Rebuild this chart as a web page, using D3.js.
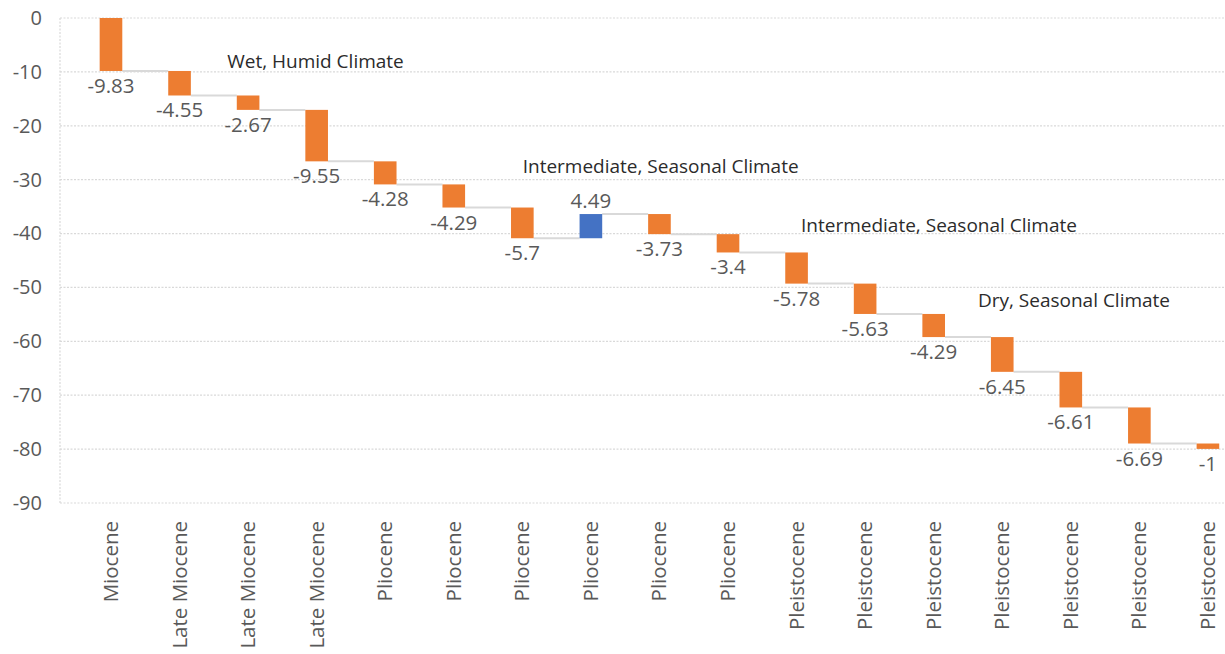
<!DOCTYPE html>
<html>
<head>
<meta charset="utf-8">
<script src="https://cdn.jsdelivr.net/npm/d3@7/dist/d3.min.js"></script>
<style>
  html, body { margin: 0; padding: 0; background: #ffffff; }
  svg { display: block; font-family: "Open Sans", "Noto Sans", sans-serif; }
</style>
</head>
<body>
<svg id="chart" width="1225" height="654"></svg>
<script>
// Epochs along the sequence, one step per entry
const categories = [
  "Miocene", "Late Miocene", "Late Miocene", "Late Miocene",
  "Pliocene", "Pliocene", "Pliocene", "Pliocene", "Pliocene", "Pliocene",
  "Pleistocene", "Pleistocene", "Pleistocene", "Pleistocene",
  "Pleistocene", "Pleistocene", "Pleistocene"
];

// Change contributed by each step
const changes = [
  -9.83, -4.55, -2.67, -9.55, -4.28, -4.29, -5.7, 4.49, -3.73, -3.4,
  -5.78, -5.63, -4.29, -6.45, -6.61, -6.69, -1
];

// Value axis ticks
const yTicks = [0, -10, -20, -30, -40, -50, -60, -70, -80, -90];

// Climate phase notes
const notes = [
  "Wet, Humid Climate",
  "Intermediate, Seasonal Climate",
  "Intermediate, Seasonal Climate",
  "Dry, Seasonal Climate"
];
// Where each note sits: category offset it starts at (fractional) and value of its baseline
const notePlacement = [
  { at: 1.86, v: -9.2 },
  { at: 6.17, v: -28.7 },
  { at: 10.23, v: -39.7 },
  { at: 12.81, v: -53.6 }
];

const colors = { down: "#ED7D31", up: "#4472C4", grid: "#d9d9d9", connector: "#d9d9d9", text: "#595959", note: "#2b2b2b" };

// Running totals for the waterfall
let run = 0;
const steps = changes.map((c, i) => {
  const start = run;
  run += c;
  return { i, cat: categories[i], change: c, start, end: run };
});

const svg = d3.select("#chart");
const plot = { left: 60, right: 1225, top: 18, bottom: 503 };

const y = d3.scaleLinear().domain([0, -90]).range([plot.top, plot.bottom]);
const x = d3.scaleBand()
  .domain(d3.range(categories.length))
  .range([76.7, 1242.2])
  .paddingInner(0.67)
  .paddingOuter(0.335);
const step = x.step();

// Gridlines
svg.append("g").selectAll("line").data(yTicks).join("line")
  .attr("x1", plot.left).attr("x2", plot.right)
  .attr("y1", d => y(d)).attr("y2", d => y(d))
  .attr("stroke", colors.grid).attr("stroke-width", 1.2)
  .attr("stroke-dasharray", "2,1.5");

// Vertical axis line
svg.append("line")
  .attr("x1", plot.left).attr("x2", plot.left)
  .attr("y1", y(0)).attr("y2", y(-90))
  .attr("stroke", colors.grid).attr("stroke-width", 1.2)
  .attr("stroke-dasharray", "2,1.5");

// Y axis labels (plain hyphen for negatives)
const yAxis = d3.axisLeft(y).tickValues(yTicks).tickFormat(d => String(d)).tickSize(0).tickPadding(18);
const yg = svg.append("g").attr("transform", `translate(${plot.left},0)`).call(yAxis);
yg.select(".domain").remove();
yg.selectAll("text")
  .attr("fill", colors.text)
  .style("font-size", "20px")
  .style("font-family", "'Open Sans', sans-serif");

// Connectors between consecutive bars
svg.append("g").selectAll("line").data(steps.slice(0, -1)).join("line")
  .attr("x1", d => x(d.i) + x.bandwidth())
  .attr("x2", d => x(d.i + 1))
  .attr("y1", d => y(d.end)).attr("y2", d => y(d.end))
  .attr("stroke", colors.connector).attr("stroke-width", 2);

// Bars
svg.append("g").selectAll("rect").data(steps).join("rect")
  .attr("x", d => x(d.i))
  .attr("width", x.bandwidth())
  .attr("y", d => y(Math.max(d.start, d.end)))
  .attr("height", d => Math.abs(y(d.end) - y(d.start)))
  .attr("fill", d => d.change < 0 ? colors.down : colors.up);

// Value labels
svg.append("g").selectAll("text").data(steps).join("text")
  .attr("x", d => x(d.i) + x.bandwidth() / 2)
  .attr("y", d => d.change < 0 ? y(Math.min(d.start, d.end)) + 22 : y(Math.max(d.start, d.end)) - 6)
  .attr("text-anchor", "middle")
  .attr("fill", colors.text)
  .style("font-size", "20.5px")
  .text(d => String(d.change));

// Category labels, rotated
svg.append("g").selectAll("text").data(steps).join("text")
  .attr("transform", d => `translate(${x(d.i) + x.bandwidth() / 2 + 7},${plot.bottom + 18}) rotate(-90)`)
  .attr("text-anchor", "end")
  .attr("fill", colors.text)
  .style("font-size", "20.5px")
  .text(d => d.cat);

// Climate phase notes
svg.append("g").selectAll("text").data(notes).join("text")
  .attr("x", (d, k) => x(0) + notePlacement[k].at * step)
  .attr("y", (d, k) => y(notePlacement[k].v))
  .attr("fill", colors.note)
  .style("font-size", "19px")
  .text(d => d);
</script>
</body>
</html>
